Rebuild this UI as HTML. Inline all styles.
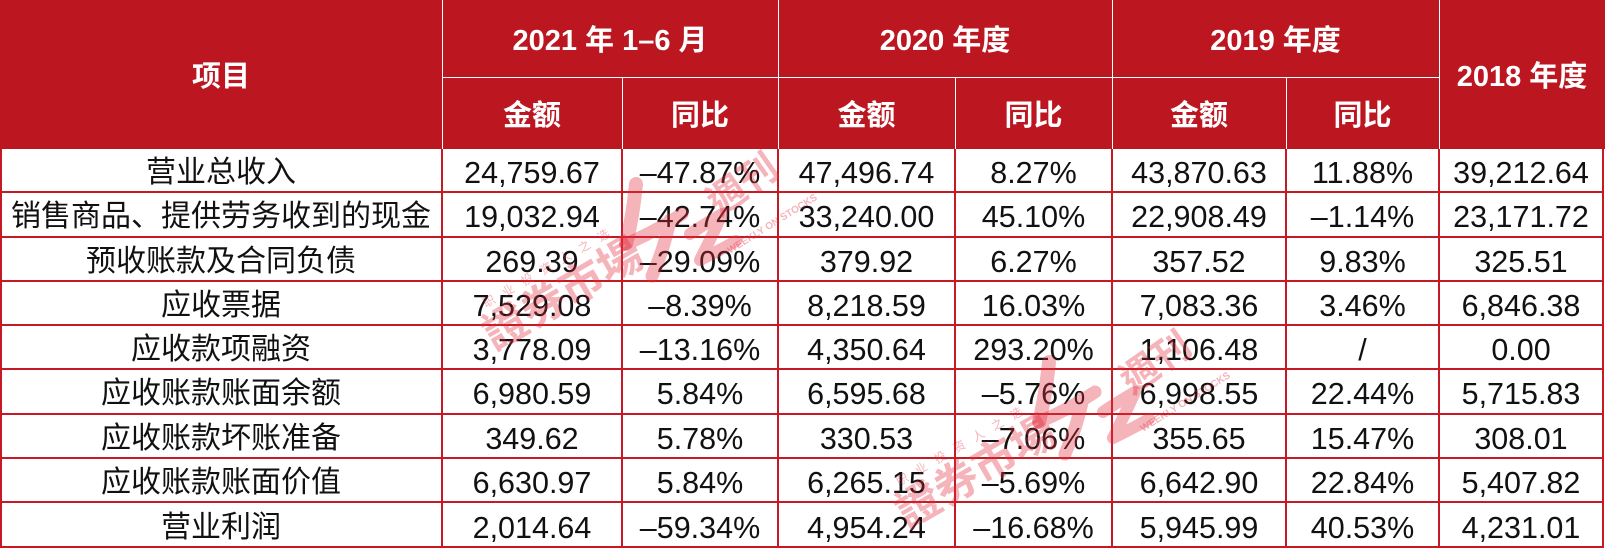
<!DOCTYPE html>
<html><head><meta charset="utf-8">
<style>
html,body{margin:0;padding:0;background:#fff;}
#w{position:relative;width:1605px;height:550px;overflow:hidden;background:#fff;
font-family:"Liberation Sans","Noto Sans CJK SC",sans-serif;}
.hd{position:absolute;left:0;top:0;width:1605px;height:149px;background:#bc1620;}
.c{position:absolute;display:flex;align-items:center;justify-content:center;box-sizing:border-box;
padding-top:5px;font-size:30px;line-height:30px;white-space:nowrap;color:#111;}
.h{color:#fff;font-weight:bold;font-size:29px;}
.n{font-size:30.5px;}
.lh{position:absolute;height:2px;background:#c51a23;}
.lv{position:absolute;width:2px;background:#c51a23;}
.wh{position:absolute;height:1px;background:#fff;}
.wv{position:absolute;width:1px;background:#fff;}
svg{position:absolute;left:0;top:0;}
</style></head><body>
<div id="w">
<div class="hd"></div>
<!-- header white lines -->
<div class="wv" style="left:442px;top:0;height:149px"></div>
<div class="wv" style="left:778px;top:0;height:149px"></div>
<div class="wv" style="left:1112px;top:0;height:149px"></div>
<div class="wv" style="left:1439px;top:0;height:149px"></div>
<div class="wh" style="left:442px;top:77px;width:997px"></div>
<div class="wv" style="left:622px;top:77px;height:72px"></div>
<div class="wv" style="left:955px;top:77px;height:72px"></div>
<div class="wv" style="left:1286px;top:77px;height:72px"></div>
<!-- header text -->
<div class="c h" style="left:0;top:0;width:442px;height:149px">项目</div>
<div class="c h" style="left:442px;top:0;width:336px;height:77px">2021 年 1–6 月</div>
<div class="c h" style="left:778px;top:0;width:334px;height:77px">2020 年度</div>
<div class="c h" style="left:1112px;top:0;width:327px;height:77px">2019 年度</div>
<div class="c h" style="left:1439px;top:0;width:166px;height:149px">2018 年度</div>
<div class="c h" style="left:442px;top:77px;width:180px;height:72px">金额</div>
<div class="c h" style="left:622px;top:77px;width:156px;height:72px">同比</div>
<div class="c h" style="left:778px;top:77px;width:177px;height:72px">金额</div>
<div class="c h" style="left:955px;top:77px;width:157px;height:72px">同比</div>
<div class="c h" style="left:1112px;top:77px;width:174px;height:72px">金额</div>
<div class="c h" style="left:1286px;top:77px;width:153px;height:72px">同比</div>

<!-- body lines -->
<div class="lh" style="left:1px;top:191px;width:1603px"></div>
<div class="lh" style="left:1px;top:236px;width:1603px"></div>
<div class="lh" style="left:1px;top:280px;width:1603px"></div>
<div class="lh" style="left:1px;top:324px;width:1603px"></div>
<div class="lh" style="left:1px;top:368px;width:1603px"></div>
<div class="lh" style="left:1px;top:413px;width:1603px"></div>
<div class="lh" style="left:1px;top:457px;width:1603px"></div>
<div class="lh" style="left:1px;top:501px;width:1603px"></div>
<div class="lh" style="left:1px;top:546px;width:1603px"></div>
<div class="lv" style="left:0px;top:149px;height:399px"></div>
<div class="lv" style="left:441px;top:149px;height:399px"></div>
<div class="lv" style="left:621px;top:149px;height:399px"></div>
<div class="lv" style="left:777px;top:149px;height:399px"></div>
<div class="lv" style="left:954px;top:149px;height:399px"></div>
<div class="lv" style="left:1111px;top:149px;height:399px"></div>
<div class="lv" style="left:1285px;top:149px;height:399px"></div>
<div class="lv" style="left:1438px;top:149px;height:399px"></div>
<div class="lv" style="left:1602px;top:149px;height:399px"></div>

<!-- rows -->
<div class="c" style="left:0;top:149px;width:442px;height:43px">营业总收入</div>
<div class="c n" style="left:442px;top:149px;width:180px;height:43px">24,759.67</div>
<div class="c n" style="left:622px;top:149px;width:156px;height:43px">–47.87%</div>
<div class="c n" style="left:778px;top:149px;width:177px;height:43px">47,496.74</div>
<div class="c n" style="left:955px;top:149px;width:157px;height:43px">8.27%</div>
<div class="c n" style="left:1112px;top:149px;width:174px;height:43px">43,870.63</div>
<div class="c n" style="left:1286px;top:149px;width:153px;height:43px">11.88%</div>
<div class="c n" style="left:1439px;top:149px;width:164px;height:43px">39,212.64</div>

<div class="c" style="left:0;top:192px;width:442px;height:45px">销售商品、提供劳务收到的现金</div>
<div class="c n" style="left:442px;top:192px;width:180px;height:45px">19,032.94</div>
<div class="c n" style="left:622px;top:192px;width:156px;height:45px">–42.74%</div>
<div class="c n" style="left:778px;top:192px;width:177px;height:45px">33,240.00</div>
<div class="c n" style="left:955px;top:192px;width:157px;height:45px">45.10%</div>
<div class="c n" style="left:1112px;top:192px;width:174px;height:45px">22,908.49</div>
<div class="c n" style="left:1286px;top:192px;width:153px;height:45px">–1.14%</div>
<div class="c n" style="left:1439px;top:192px;width:164px;height:45px">23,171.72</div>

<div class="c" style="left:0;top:237px;width:442px;height:44px">预收账款及合同负债</div>
<div class="c n" style="left:442px;top:237px;width:180px;height:44px">269.39</div>
<div class="c n" style="left:622px;top:237px;width:156px;height:44px">–29.09%</div>
<div class="c n" style="left:778px;top:237px;width:177px;height:44px">379.92</div>
<div class="c n" style="left:955px;top:237px;width:157px;height:44px">6.27%</div>
<div class="c n" style="left:1112px;top:237px;width:174px;height:44px">357.52</div>
<div class="c n" style="left:1286px;top:237px;width:153px;height:44px">9.83%</div>
<div class="c n" style="left:1439px;top:237px;width:164px;height:44px">325.51</div>

<div class="c" style="left:0;top:281px;width:442px;height:44px">应收票据</div>
<div class="c n" style="left:442px;top:281px;width:180px;height:44px">7,529.08</div>
<div class="c n" style="left:622px;top:281px;width:156px;height:44px">–8.39%</div>
<div class="c n" style="left:778px;top:281px;width:177px;height:44px">8,218.59</div>
<div class="c n" style="left:955px;top:281px;width:157px;height:44px">16.03%</div>
<div class="c n" style="left:1112px;top:281px;width:174px;height:44px">7,083.36</div>
<div class="c n" style="left:1286px;top:281px;width:153px;height:44px">3.46%</div>
<div class="c n" style="left:1439px;top:281px;width:164px;height:44px">6,846.38</div>

<div class="c" style="left:0;top:325px;width:442px;height:44px">应收款项融资</div>
<div class="c n" style="left:442px;top:325px;width:180px;height:44px">3,778.09</div>
<div class="c n" style="left:622px;top:325px;width:156px;height:44px">–13.16%</div>
<div class="c n" style="left:778px;top:325px;width:177px;height:44px">4,350.64</div>
<div class="c n" style="left:955px;top:325px;width:157px;height:44px">293.20%</div>
<div class="c n" style="left:1112px;top:325px;width:174px;height:44px">1,106.48</div>
<div class="c n" style="left:1286px;top:325px;width:153px;height:44px">/</div>
<div class="c n" style="left:1439px;top:325px;width:164px;height:44px">0.00</div>

<div class="c" style="left:0;top:369px;width:442px;height:45px">应收账款账面余额</div>
<div class="c n" style="left:442px;top:369px;width:180px;height:45px">6,980.59</div>
<div class="c n" style="left:622px;top:369px;width:156px;height:45px">5.84%</div>
<div class="c n" style="left:778px;top:369px;width:177px;height:45px">6,595.68</div>
<div class="c n" style="left:955px;top:369px;width:157px;height:45px">–5.76%</div>
<div class="c n" style="left:1112px;top:369px;width:174px;height:45px">6,998.55</div>
<div class="c n" style="left:1286px;top:369px;width:153px;height:45px">22.44%</div>
<div class="c n" style="left:1439px;top:369px;width:164px;height:45px">5,715.83</div>

<div class="c" style="left:0;top:414px;width:442px;height:44px">应收账款坏账准备</div>
<div class="c n" style="left:442px;top:414px;width:180px;height:44px">349.62</div>
<div class="c n" style="left:622px;top:414px;width:156px;height:44px">5.78%</div>
<div class="c n" style="left:778px;top:414px;width:177px;height:44px">330.53</div>
<div class="c n" style="left:955px;top:414px;width:157px;height:44px">–7.06%</div>
<div class="c n" style="left:1112px;top:414px;width:174px;height:44px">355.65</div>
<div class="c n" style="left:1286px;top:414px;width:153px;height:44px">15.47%</div>
<div class="c n" style="left:1439px;top:414px;width:164px;height:44px">308.01</div>

<div class="c" style="left:0;top:458px;width:442px;height:44px">应收账款账面价值</div>
<div class="c n" style="left:442px;top:458px;width:180px;height:44px">6,630.97</div>
<div class="c n" style="left:622px;top:458px;width:156px;height:44px">5.84%</div>
<div class="c n" style="left:778px;top:458px;width:177px;height:44px">6,265.15</div>
<div class="c n" style="left:955px;top:458px;width:157px;height:44px">–5.69%</div>
<div class="c n" style="left:1112px;top:458px;width:174px;height:44px">6,642.90</div>
<div class="c n" style="left:1286px;top:458px;width:153px;height:44px">22.84%</div>
<div class="c n" style="left:1439px;top:458px;width:164px;height:44px">5,407.82</div>

<div class="c" style="left:0;top:502px;width:442px;height:46px">营业利润</div>
<div class="c n" style="left:442px;top:502px;width:180px;height:46px">2,014.64</div>
<div class="c n" style="left:622px;top:502px;width:156px;height:46px">–59.34%</div>
<div class="c n" style="left:778px;top:502px;width:177px;height:46px">4,954.24</div>
<div class="c n" style="left:955px;top:502px;width:157px;height:46px">–16.68%</div>
<div class="c n" style="left:1112px;top:502px;width:174px;height:46px">5,945.99</div>
<div class="c n" style="left:1286px;top:502px;width:153px;height:46px">40.53%</div>
<div class="c n" style="left:1439px;top:502px;width:164px;height:46px">4,231.01</div>

<!-- watermarks -->
<svg width="1605" height="550" viewBox="0 0 1605 550">
<defs>
<g id="wm">
<text x="494" y="351" transform="rotate(-30 494 351)" font-family="'Liberation Sans','Noto Sans CJK TC',sans-serif" font-size="44" font-weight="bold" fill="rgba(228,45,65,0.36)">證券市場</text>
<text x="486" y="308" transform="rotate(-30 486 308)" font-family="'Liberation Sans','Noto Sans CJK SC',sans-serif" font-size="12" letter-spacing="10" fill="rgba(228,45,65,0.36)">职业投资人之选</text>
<path d="M636 184 C634 204 631 224 626 244" fill="none" stroke="rgba(228,45,65,0.36)" stroke-width="14" stroke-linecap="round"/>
<path d="M626 244 C645 236 664 226 682 214 M670 220 C666 240 660 258 652 276" fill="none" stroke="rgba(228,45,65,0.36)" stroke-width="13" stroke-linecap="round" stroke-linejoin="round"/>
<path d="M690 234 C700 227 712 220 722 214 C715 230 707 246 700 260 C712 254 724 248 736 241" fill="none" stroke="rgba(228,45,65,0.36)" stroke-width="12" stroke-linecap="round" stroke-linejoin="round"/>
<text x="719" y="217" transform="rotate(-35 719 217)" font-family="'Liberation Sans','Noto Sans CJK TC',sans-serif" font-size="38" font-weight="bold" fill="rgba(228,45,65,0.36)">週刊</text>
<text x="730" y="254" transform="rotate(-32 730 254)" font-family="'Liberation Sans',sans-serif" font-size="10" font-weight="bold" fill="rgba(228,45,65,0.36)">WEEKLY ON STOCKS</text>
</g>
</defs>
<use href="#wm"/>
<use href="#wm" transform="translate(413 178)"/>
</svg>
</div>
</body></html>
